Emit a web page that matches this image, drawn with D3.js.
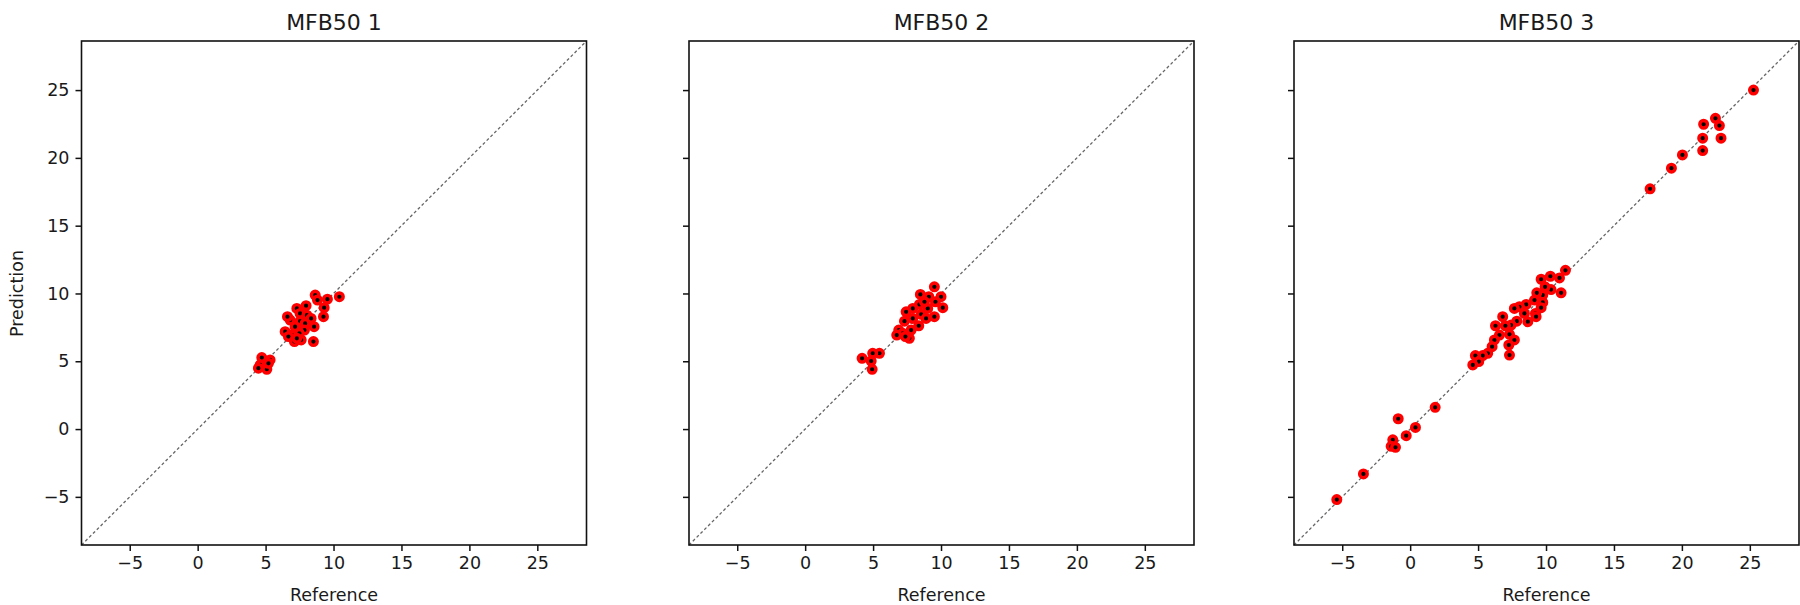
<!DOCTYPE html>
<html>
<head>
<meta charset="utf-8">
<script src="https://cdn.jsdelivr.net/npm/d3@7"></script>
<style>
  body { margin: 0; background: #fff; }
  text { font-family: "DejaVu Sans", sans-serif; fill: #1a1a1a; }
</style>
</head>
<body>
<svg id="chart" width="1800" height="605"></svg>
<script>

// panel titles and shared ticks
const titles = ["MFB50 1", "MFB50 2", "MFB50 3"];
const tickValues = [-5, 0, 5, 10, 15, 20, 25];
const axisDomain = [-8.55, 28.62];

// MFB50 1: reference vs prediction
const ref1 = [10.43, 8.65, 9.55, 8.82, 9.31, 9.26, 7.98, 7.3, 7.54, 8.04, 8.35, 6.81, 6.61, 7.54, 7.17, 7.91,
    8.57, 7.86, 6.44, 6.93, 7.49, 6.68, 7.12, 7.62, 8.52, 7.3, 4.72, 5.33, 4.6, 5.09, 5.21, 4.47];
const pred1 = [9.76, 9.88, 9.58, 9.51, 8.95, 8.29, 9.1, 8.9, 8.53, 8.4, 8.16, 8.04, 8.29, 7.96, 7.55, 7.79,
    7.55, 7.3, 7.18, 6.93, 7.06, 6.82, 6.45, 6.57, 6.45, 6.69, 5.27, 5.1, 4.73, 4.41, 4.85, 4.49];

// MFB50 2
const ref2 = [9.51, 8.48, 9.1, 10.0, 9.59, 10.13, 9.02, 8.41, 7.92, 8.54, 9.51, 7.43, 7.92, 8.9, 7.31, 8.36,
    7.8, 6.89, 7.18, 6.74, 7.67, 8.78, 7.38, 5.47, 4.97, 4.86, 4.19, 4.93];
const pred2 = [10.49, 9.93, 9.76, 9.76, 9.39, 8.95, 8.9, 9.19, 8.9, 8.46, 8.29, 8.65, 8.16, 8.16, 7.96, 7.62,
    7.3, 7.3, 7.06, 6.93, 6.69, 9.39, 6.82, 5.59, 5.59, 5.02, 5.22, 4.41];

// MFB50 3
const ref3 = [25.27, 22.47, 21.6, 22.76, 21.53, 22.88, 21.53, 20.04, 19.23, 17.66,
    11.43, 10.99, 10.32, 9.64, 11.11, 10.37, 9.93, 9.76, 9.32, 9.15, 9.76, 9.64, 9.22, 8.54, 8.04, 7.67,
    8.41, 8.66, 9.27, 7.85, 7.43, 7.01, 6.28, 6.57, 7.31, 7.67, 7.26, 6.2, 6.03, 7.31, 5.71, 5.34, 4.8,
    5.05, 4.61, 6.81,
    1.84, -0.88, 0.39, -0.29, -1.28, -1.4, -1.08, -3.44, -5.4];
const pred3 = [25.0, 22.92, 22.48, 22.38, 21.45, 21.45, 20.54, 20.22, 19.24, 17.72,
    11.71, 11.15, 11.27, 11.05, 10.05, 10.29, 10.49, 9.88, 10.05, 9.51, 9.34, 8.95, 8.53, 9.19, 9.02, 8.9,
    8.53, 7.92, 8.29, 7.96, 7.67, 7.62, 7.62, 6.93, 6.99, 6.57, 6.2, 6.57, 6.08, 5.46, 5.59, 5.42, 5.42,
    4.98, 4.73, 8.29,
    1.6, 0.76, 0.12, -0.49, -0.79, -1.27, -1.35, -3.31, -5.2];

const panels = [
    {ref: ref1, pred: pred1, left: 81.5},
    {ref: ref2, pred: pred2, left: 689},
    {ref: ref3, pred: pred3, left: 1294}
];

const plotTop = 41, size = 505;
const svg = d3.select('#chart');

panels.forEach((p, i) => {

    const x = d3.scaleLinear().domain(axisDomain).range([0, size]);
    const y = d3.scaleLinear().domain(axisDomain).range([size - 1, 0]);

    const g = svg.append('g').attr('transform', `translate(${p.left},${plotTop})`);

    // y = x reference line
    g.append('line')
        .attr('x1', x(axisDomain[0])).attr('y1', y(axisDomain[0]))
        .attr('x2', x(axisDomain[1])).attr('y2', y(axisDomain[1]))
        .attr('stroke', '#666')
        .attr('stroke-width', 1.3)
        .attr('stroke-dasharray', '3,2.4');

    // points
    g.selectAll('.pt')
        .data(d3.zip(p.ref, p.pred))
        .enter()
        .append('circle')
        .classed('pt', true)
        .attr('cx', (d) => x(d[0]))
        .attr('cy', (d) => y(d[1]))
        .attr('r', 3.8)
        .attr('fill', '#000')
        .attr('stroke', '#ff0000')
        .attr('stroke-width', 3.4);

    // axes
    const fmt = (d) => d < 0 ? '\u2212' + Math.abs(d) : d;
    const xAxis = g.append('g')
        .attr('transform', `translate(0,${size - 1})`)
        .call(d3.axisBottom(x).tickValues(tickValues).tickFormat(fmt).tickSizeOuter(0).tickSize(6).tickPadding(6));
    const yAxis = g.append('g')
        .call(d3.axisLeft(y).tickValues(tickValues).tickFormat(i === 0 ? fmt : () => '').tickSizeOuter(0).tickSize(6).tickPadding(6));

    [xAxis, yAxis].forEach((a) => {
        a.select('.domain').remove();
        a.selectAll('line').attr('stroke', '#111').attr('stroke-width', 1.5);
        a.selectAll('text').style('font-size', '17.5px').attr('fill', '#1a1a1a');
    });

    // frame
    g.append('rect')
        .attr('width', size).attr('height', size - 1)
        .attr('fill', 'none')
        .attr('stroke', '#111')
        .attr('stroke-width', 1.6);

    // titles and labels
    g.append('text')
        .attr('x', size / 2).attr('y', -11)
        .attr('text-anchor', 'middle')
        .style('font-size', '22px')
        .text(titles[i]);

    g.append('text')
        .attr('x', size / 2).attr('y', size + 55)
        .attr('text-anchor', 'middle')
        .style('font-size', '17.5px')
        .text('Reference');

    if (i === 0) {
        g.append('text')
            .attr('transform', `translate(${-59},${size / 2}) rotate(-90)`)
            .attr('text-anchor', 'middle')
            .style('font-size', '17.5px')
            .text('Prediction');
    }
});

</script>
</body>
</html>
